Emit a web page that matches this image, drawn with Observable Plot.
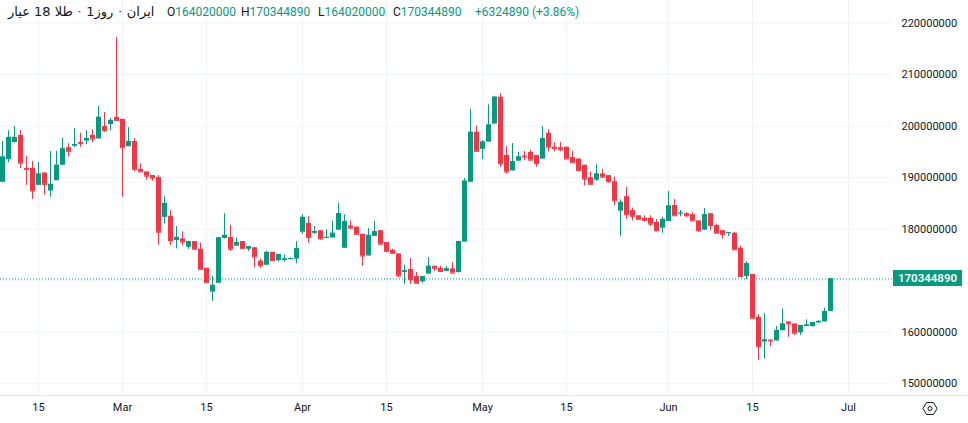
<!DOCTYPE html>
<html>
<head>
<meta charset="utf-8">
<script src="https://cdn.jsdelivr.net/npm/d3@7"></script>
<script src="https://cdn.jsdelivr.net/npm/@observablehq/plot@0.6"></script>
<style>
  html, body { margin: 0; padding: 0; background: #fff; }
  #wrap { position: relative; width: 968px; height: 423px; overflow: hidden; }
  #legend { position: absolute; top: 5px; left: 0; height: 16px; font-family: Roboto, "DejaVu Sans", sans-serif; font-size: 12px; color: #131722; white-space: nowrap; }
  #legend .abs { position: absolute; top: 0; white-space: nowrap; }
  #legend .title { display: flex; align-items: baseline; font-family: "DejaVu Sans", Roboto, sans-serif; font-size: 13px; top: -1px; }
  #legend .title .dot { margin: 0 5px; font-family: Roboto, sans-serif; }
  .g { color: #089981; }
</style>
</head>
<body>
<div id="wrap">
  <div id="chart"></div>
  <div id="legend"></div>
</div>
<script>
// ---- data (values in millions of rial) ----
const unit = 1e6;
const open = [189.1,193.5,196.8,198.2,191.8,191.8,188.5,190.9,187.4,189.4,192.4,195.8,196.1,196.8,197.1,198.2,197.5,199.9,200.3,201.7,
201.3,196.0,197.0,191.6,191.1,190.4,190.0,182.3,182.5,177.8,178.1,176.5,177.6,176.1,172.4,167.8,169.5,178.2,178.4,176.7,
177.6,176.1,176.4,173.8,173.0,175.5,173.9,173.9,174.2,174.2,179.4,181.1,179.2,179.7,178.3,178.3,179.8,176.3,180.6,180.4,
179.0,174.8,178.6,179.7,177.4,175.9,175.2,171.6,172.2,170.8,169.8,171.3,172.8,172.4,171.8,172.3,171.6,177.5,189.1,198.8,
195.5,196.9,200.4,205.6,194.3,191.3,193.2,194.2,194.9,194.3,193.6,198.6,195.9,195.8,195.9,193.9,193.6,192.4,190.0,189.5,
190.7,190.4,189.2,183.5,186.3,183.6,182.6,182.1,182.1,181.3,180.2,181.5,184.6,183.0,183.0,182.8,181.6,179.8,183.0,180.7,
179.7,179.2,179.2,176.3,170.8,171.2,162.9,158.1,158.5,158.3,160.3,162.0,161.6,159.9,161.1,161.1,161.8,162.0,164.02];
const high = [197.0,199.1,199.9,199.1,194.1,193.1,192.9,190.9,195.1,195.1,197.6,196.6,199.5,198.6,199.1,199.3,203.8,202.6,201.5,217.2,
201.3,199.7,197.6,192.7,191.1,190.4,190.4,186.3,183.6,180.5,179.5,177.6,177.6,177.3,172.4,170.8,178.4,183.0,180.7,178.3,
177.6,176.6,176.4,174.2,175.7,175.5,175.1,175.0,174.4,177.6,182.8,182.4,180.5,179.7,179.9,181.5,185.0,182.8,181.6,180.4,
179.0,180.1,181.5,179.7,177.4,176.1,175.2,173.0,174.3,171.6,170.8,174.5,172.8,172.8,172.7,173.5,177.6,189.8,203.2,200.0,
197.2,204.1,205.8,206.3,196.0,196.6,194.9,195.1,195.3,194.3,199.9,199.3,196.8,196.8,195.9,195.1,193.6,192.4,191.1,192.5,
191.6,190.4,190.1,185.7,188.1,184.1,182.6,182.6,182.6,181.9,182.3,187.3,185.8,183.6,183.2,183.2,181.6,184.0,183.0,181.0,
179.7,179.3,179.4,176.7,173.7,171.2,163.4,163.6,158.5,161.1,164.5,162.1,161.6,161.3,162.4,161.9,162.3,164.7,170.34489];
const low = [189.0,192.9,196.8,191.8,188.5,185.8,188.5,186.6,186.2,189.4,192.4,194.0,195.8,195.9,196.4,196.8,197.5,198.8,199.1,201.1,
186.2,196.0,191.1,191.1,189.5,189.3,176.9,181.0,176.8,176.2,176.8,176.1,175.9,172.2,169.6,166.0,169.5,178.1,175.7,176.7,
176.1,175.7,172.5,172.4,173.0,173.9,173.6,173.6,174.1,173.3,179.0,177.3,179.0,177.8,178.2,178.3,179.8,176.3,179.9,179.0,
172.8,174.8,178.6,176.8,175.4,175.2,170.7,169.3,169.3,169.5,169.5,171.3,171.8,171.6,171.8,171.5,171.5,177.5,189.1,195.1,
193.5,196.9,200.4,192.0,190.7,191.3,193.1,193.3,193.2,192.0,193.6,195.0,195.0,195.0,193.6,192.9,191.1,188.4,188.6,189.3,
189.8,188.9,184.6,178.6,181.9,181.6,181.9,181.4,180.5,179.5,179.2,181.5,182.5,182.4,182.3,181.5,179.4,179.8,179.7,179.2,
178.1,178.6,175.9,170.8,170.2,162.7,154.5,154.8,157.2,158.3,160.3,159.0,159.4,159.4,161.1,161.0,161.8,162.0,164.02];
const close = [194.0,197.8,197.8,192.8,191.6,187.4,190.7,188.7,188.7,192.4,195.6,195.1,196.4,196.6,197.6,197.5,201.7,199.1,201.1,201.1,
195.8,197.0,191.6,191.1,190.3,189.9,179.4,185.0,177.8,178.4,177.5,177.6,176.1,172.2,169.6,169.1,178.3,178.8,176.1,177.4,
176.2,176.6,174.6,172.9,175.5,173.9,175.1,174.2,174.3,176.2,182.3,178.4,179.5,178.1,178.4,179.2,183.0,181.5,180.2,179.0,
174.8,178.8,179.5,177.1,175.7,175.3,170.9,171.9,170.2,169.5,170.8,172.8,172.4,171.8,172.3,171.5,177.6,189.3,198.8,195.1,
196.9,200.2,205.6,192.7,191.1,193.1,194.0,194.0,193.4,192.7,197.6,195.9,195.6,195.4,193.6,192.9,191.4,189.7,188.7,190.7,
190.1,189.2,185.5,185.2,182.8,182.5,181.9,181.7,181.0,179.7,181.9,184.5,182.6,183.1,182.6,181.6,179.7,182.8,180.7,179.2,
179.0,179.3,176.0,170.8,173.3,162.7,157.2,158.5,158.3,160.3,161.6,161.6,159.8,161.3,161.4,161.9,162.1,164.0,170.34489];

// axis ticks (170000000 is hidden behind the last-price label in the original)
const yGrid = [150, 160, 170, 180, 190, 200, 210, 220];
const yLabels = [150, 160, 180, 190, 200, 210, 220];
const xTickBars = [6, 20, 34, 50, 64, 80, 94, 111, 125, 141];   // bar index of each date label
const xTickLabels = ["15", "Mar", "15", "Apr", "15", "May", "15", "Jun", "15", "Jul"];

// legend
const symbolName = "طلا 18 عیار";
const intervalCount = "1", intervalUnit = "روز";
const exchangeName = "ایران";
const lastOpen = 164020000, lastHigh = 170344890, lastLow = 164020000, lastClose = 170344890;
const change = 6324890, changePct = "+3.86%";

// ---- chart ----
const GREEN = "#089981", RED = "#f23645", TEXT = "#131722", GRID = "#f0f3fa";
const bars = open.map((o, i) => ({i, o: o * unit, h: high[i] * unit, l: low[i] * unit, c: close[i] * unit}));
const col = d => (d.c >= d.o ? GREEN : RED);
const labelAt = new Map(xTickBars.map((t, k) => [t, xTickLabels[k]]));

const plot = Plot.plot({
  width: 968,
  height: 423,
  marginTop: 0,
  marginBottom: 28,
  marginLeft: 0,
  marginRight: 76,
  style: {fontFamily: "Roboto, sans-serif", fontSize: "11px", color: TEXT, background: "#fff", overflow: "visible"},
  x: {type: "linear", domain: [0, 138], range: [2, 830], label: null},
  y: {domain: [150 * unit, 220 * unit], range: [383.3, 22.5], label: null},
  marks: [
    Plot.gridY(yGrid.map(v => v * unit), {stroke: GRID, strokeOpacity: 1}),
    Plot.gridX(xTickBars, {stroke: GRID, strokeOpacity: 1}),
    Plot.axisY(yLabels.map(v => v * unit), {anchor: "right", tickSize: 0, tickPadding: 9, tickFormat: d3.format("d"), fill: TEXT, label: null}),
    Plot.axisX(xTickBars, {anchor: "bottom", tickSize: 0, tickPadding: 8, tickFormat: d => labelAt.get(d), fill: TEXT, label: null}),
    Plot.ruleY([lastClose], {stroke: GREEN, strokeDasharray: "1,2", strokeWidth: 1}),
    Plot.ruleX(bars, {x: "i", y1: "l", y2: "h", stroke: col, strokeWidth: 1}),
    Plot.rect(bars, {x1: d => d.i - 1 / 3, x2: d => d.i + 0.5, y1: "o", y2: "c", fill: col}),
    Plot.ruleY(bars, {y: "c", x1: d => d.i - 1 / 3, x2: d => d.i + 0.5, stroke: col, strokeWidth: 1})
  ]
});
document.getElementById("chart").appendChild(plot);

// price axis decorations
const svg = d3.select(plot);
const yS = plot.scale("y");
const yp = yS.apply(lastClose);
svg.append("line").attr("x1", 0).attr("x2", 968).attr("y1", 395.5).attr("y2", 395.5).attr("stroke", "#e0e3eb");
svg.append("rect").attr("x", 893).attr("y", Math.round(yp) - 8).attr("width", 69).attr("height", 16).attr("fill", GREEN);
svg.append("text").attr("x", 927.5).attr("y", Math.round(yp)).attr("dy", "0.35em").attr("text-anchor", "middle")
  .attr("fill", "#fff").attr("font-size", 11.5).attr("font-weight", 600).attr("font-family", "Roboto, sans-serif")
  .text(d3.format("d")(lastClose));
// settings icon
const cx = 930, cy = 408.5;
svg.append("polygon").attr("points", [[cx-7,cy],[cx-3.5,cy-6],[cx+3.5,cy-6],[cx+7,cy],[cx+3.5,cy+6],[cx-3.5,cy+6]].map(p=>p.join(",")).join(" "))
  .attr("fill", "none").attr("stroke", TEXT).attr("stroke-width", 1);
svg.append("circle").attr("cx", cx).attr("cy", cy).attr("r", 2).attr("fill", "none").attr("stroke", TEXT).attr("stroke-width", 1);

// legend overlay
const fmt = d3.format("d");
const lg = document.getElementById("legend");
lg.innerHTML =
  `<div class="abs title" style="left:8px">` +
  `<span dir="rtl">${symbolName}</span><span class="dot">·</span>` +
  `<span dir="ltr">${intervalCount}</span><span dir="rtl">${intervalUnit}</span><span class="dot">·</span>` +
  `<span dir="rtl">${exchangeName}</span></div>` +
  `<span class="abs" style="left:167px">O<span class="g">${fmt(lastOpen)}</span></span>` +
  `<span class="abs" style="left:241px">H<span class="g">${fmt(lastHigh)}</span></span>` +
  `<span class="abs" style="left:318px">L<span class="g">${fmt(lastLow)}</span></span>` +
  `<span class="abs" style="left:393px">C<span class="g">${fmt(lastClose)}</span></span>` +
  `<span class="abs g" style="left:475px">+${fmt(change)} (${changePct})</span>`;
</script>
</body>
</html>
